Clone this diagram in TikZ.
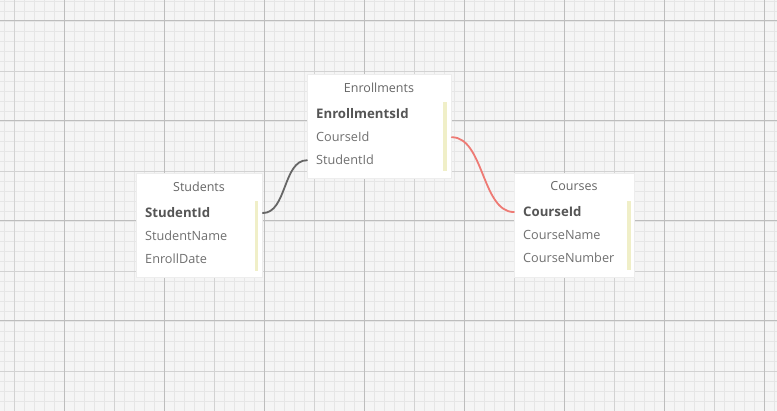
\documentclass[tikz,border=0pt]{standalone}
\usepackage{fontspec}
\setmainfont{Open Sans}
\usetikzlibrary{shadows}
\definecolor{bgc}{HTML}{F5F5F5}
\definecolor{gridminor}{HTML}{E6E6E6}
\definecolor{gridmid}{HTML}{D2D2D2}
\definecolor{gridmajor}{HTML}{BDBDBD}
\definecolor{titlec}{HTML}{666666}
\definecolor{rowc}{HTML}{707070}
\definecolor{keyc}{HTML}{555555}
\definecolor{barc}{HTML}{F0EFC8}
\definecolor{linkgray}{HTML}{666666}
\definecolor{linkred}{HTML}{EE7A74}
\tikzset{
  minor/.style={gridminor, line width=0.6pt},
  mid/.style={gridmid, line width=0.8pt},
  major/.style={gridmajor, line width=1pt},
  tablebox/.style={draw=black!7, line width=0.8pt, fill=white, anchor=north west, inner sep=0pt,
     drop shadow={shadow xshift=0pt, shadow yshift=-1pt, opacity=0.12}},
  tabletitle/.style={text=titlec, anchor=base, inner sep=0pt, font=\fontsize{12.5pt}{14pt}\selectfont},
  keyrow/.style={text=keyc, anchor=base west, inner sep=0pt, font=\fontsize{13.2pt}{15pt}\selectfont\bfseries},
  fieldrow/.style={text=rowc, anchor=base west, inner sep=0pt, font=\fontsize{12.7pt}{15pt}\selectfont},
  scrollbar/.style={fill=barc, draw=none},
  link/.style={line width=1.8pt, line cap=round}
}
\begin{document}
\begin{tikzpicture}[x=1pt,y=-1pt]
\fill[bgc] (0,0) rectangle (777,411);
\useasboundingbox (0,0) rectangle (777,411);
% grid
\foreach \x in {4,14,...,774} \draw[minor] (\x,0) -- (\x,411);
\foreach \y in {1,11,...,411} \draw[minor] (0,\y) -- (777,\y);
\foreach \x in {14,114,...,714} \draw[mid] (\x,0) -- (\x,411);
\foreach \y in {71,171,...,371} \draw[mid] (0,\y) -- (777,\y);
\foreach \x in {64,164,...,764} \draw[major] (\x,0) -- (\x,411);
\foreach \y in {21,121,...,321} \draw[major] (0,\y) -- (777,\y);

% Enrollments
\node[tablebox, minimum width=144pt, minimum height=104pt] (enr) at (307,74) {};
\node[tabletitle] (enrT) at (379,93) {Enrollments};
\node[keyrow] (enr1) at (316,119) {EnrollmentsId};
\node[fieldrow] (enr2) at (316,142) {CourseId};
\node[fieldrow] (enr3) at (316,165) {StudentId};
\fill[scrollbar] (443,102.5) rectangle (446.5,171);

% Students
\node[tablebox, minimum width=126pt, minimum height=104pt] (stu) at (136,173) {};
\node[tabletitle] (stuT) at (199,192) {Students};
\node[keyrow] (stu1) at (145,218) {StudentId};
\node[fieldrow] (stu2) at (145,241) {StudentName};
\node[fieldrow] (stu3) at (145,264) {EnrollDate};
\fill[scrollbar] (254.5,201.5) rectangle (258,271);

% Courses
\node[tablebox, minimum width=120pt, minimum height=104pt] (crs) at (514,173) {};
\node[tabletitle] (crsT) at (574,191) {Courses};
\node[keyrow] (crs1) at (523,217) {CourseId};
\node[fieldrow] (crs2) at (523,240) {CourseName};
\node[fieldrow] (crs3) at (523,263) {CourseNumber};
\fill[scrollbar] (627,201) rectangle (630.5,270);

% connectors
\coordinate (a1) at (stu.east |- stu1);
\coordinate (a2) at (enr.west |- enr3);
\coordinate (b1) at (enr.east |- enr2);
\coordinate (b2) at (crs.west |- crs1);
\draw[link, linkgray] (a1) .. controls ([xshift=24pt]a1) and ([xshift=-24pt]a2) .. (a2);
\draw[link, linkred] (b1) .. controls ([xshift=32pt]b1) and ([xshift=-32pt]b2) .. (b2);
\end{tikzpicture}
\end{document}
